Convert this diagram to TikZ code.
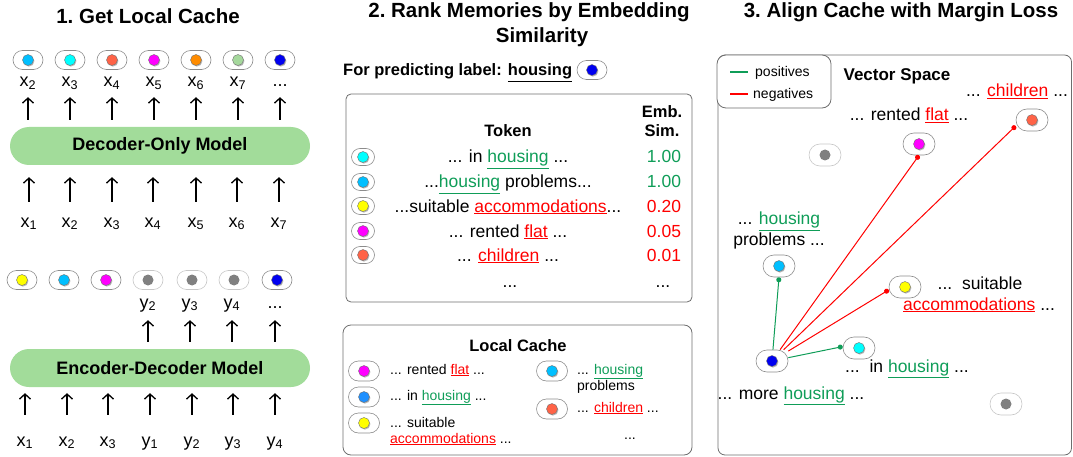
\documentclass[tikz,border=0pt]{standalone}
\usepackage{fontspec}
\setmainfont{Liberation Sans}
\usetikzlibrary{arrows.meta,shadows}
\definecolor{posg}{HTML}{0F9D58}
\definecolor{negr}{HTML}{FF0000}
\definecolor{barg}{HTML}{A2DC9A}
\definecolor{dsb}{HTML}{00BFFF}
\definecolor{cyn}{HTML}{00FFFF}
\definecolor{tom}{HTML}{FF6347}
\definecolor{mag}{HTML}{FF00FF}
\definecolor{org}{HTML}{FF8C00}
\definecolor{lgr}{HTML}{A5D89C}
\definecolor{blu}{HTML}{0000F0}
\definecolor{yel}{HTML}{FFFF00}
\definecolor{dgb}{HTML}{1E90FF}
\definecolor{gry}{HTML}{808080}
\definecolor{boxc}{HTML}{6E6E6E}
\newcommand\posw[1]{\textcolor{posg}{\underline{#1}}}
\newcommand\negw[1]{\textcolor{negr}{\underline{#1}}}
\newcommand\fsz[1]{\fontsize{#1}{#1}\selectfont}
\newcommand\mkpill[4]{\node[#2] (#1) at (#3) {};\node[dot, fill=#4] (#1d) at (#1) {};}
\newcommand\mkgpill[3]{\node[#2, draw=black!22] (#1) at (#3) {};\node[gdot] (#1d) at (#1) {};}
\tikzset{
  ttl/.style={font=\fsz{20.5}\bfseries, inner sep=0pt, anchor=base},
  lbl/.style={font=\fsz{18}, inner sep=0pt, text height=10pt, text depth=4pt, anchor=base},
  rowt/.style={font=\fsz{17.5}, inner sep=0pt, anchor=base},
  smt/.style={font=\fsz{14}, inner sep=0pt, anchor=base west},
  hdr/.style={font=\fsz{16.5}\bfseries, inner sep=0pt, anchor=base},
  bar/.style={fill=barg, rounded corners=19pt, minimum width=300pt, minimum height=38pt, font=\fsz{18}\bfseries, inner sep=0pt},
  arr/.style={line width=1.3pt, -{Straight Barb[length=5pt,width=11pt,line width=1.3pt]}},
  pill/.style={draw=black!45, line width=0.6pt, fill=white, inner sep=0pt},
  pillA/.style={pill, minimum width=30pt, minimum height=19pt, rounded corners=9.5pt},
  pillB/.style={pill, minimum width=23pt, minimum height=17pt, rounded corners=8.5pt},
  pillC/.style={pill, minimum width=31pt, minimum height=20pt, rounded corners=10pt},
  pillD/.style={pill, minimum width=32pt, minimum height=22pt, rounded corners=11pt},
  dot/.style={circle, inner sep=0pt, minimum size=11pt, draw=black!55, line width=0.4pt,
    drop shadow={shadow xshift=0.9pt, shadow yshift=-1.1pt, fill=black, opacity=0.28}},
  gdot/.style={circle, inner sep=0pt, minimum size=11pt, fill=gry},
  frame/.style={draw=boxc, line width=0.8pt},
  posline/.style={posg, line width=1pt, -{Circle[length=5pt]}},
  negline/.style={negr, line width=1pt, -{Circle[length=5pt]}},
}
\begin{document}
\begin{tikzpicture}[x=1pt, y=-1pt]
\useasboundingbox (0,0) rectangle (1073,457);
% ---------------- Panel 1
\node[ttl] (t1) at (148,24) {1.\ Get Local Cache};
\node[bar] (dec) at (160,146) {Decoder-Only Model};
\foreach \x/\c/\n [count=\i] in {28/dsb/2,70/cyn/3,112/tom/4,154/mag/5,196/org/6,238/lgr/7}{
  \mkpill{dp\i}{pillA}{\x,60}{\c}
  \node[lbl] (dl\i) at (\x,87) {x\textsubscript{\n}};
  \draw[arr, shorten <=7pt, shorten >=6pt] (dec.north -| dl\i) -- (dl\i.south);
}
\mkpill{dp7}{pillA}{280,60}{blu}
\node[lbl] (dl7) at (280,87) {...};
\draw[arr, shorten <=7pt, shorten >=6pt] (dec.north -| dl7) -- (dl7.south);
\foreach \x [count=\i] in {29,70,112,153,196,237,279}{
  \node[lbl] (xl\i) at (\x,227) {x\textsubscript{\i}};
  \draw[arr, shorten <=15pt, shorten >=12pt] (xl\i.north) -- (dec.south -| xl\i);
}
% encoder-decoder
\foreach \x/\c [count=\i] in {22/yel,64/dsb,106/mag}{\mkpill{ep\i}{pillA}{\x,280}{\c}}
\foreach \x [count=\i from 4] in {148,192,234}{\mkgpill{ep\i}{pillA}{\x,280}}
\mkpill{ep7}{pillA}{277,280}{blu}
\node[bar] (enc) at (160,368) {Encoder-Decoder Model};
\foreach \x/\n [count=\i] in {148/2,190/3,232/4}{
  \node[lbl] (el\i) at (\x,308) {y\textsubscript{\n}};
  \draw[arr, shorten <=7pt, shorten >=8pt] (enc.north -| el\i) -- (el\i.south);
}
\node[lbl] (el4) at (275,308) {...};
\draw[arr, shorten <=7pt, shorten >=8pt] (enc.north -| el4) -- (el4.south);
\foreach \x/\t [count=\i] in {25/{x\textsubscript{1}},67/{x\textsubscript{2}},108/{x\textsubscript{3}},150/{y\textsubscript{1}},192/{y\textsubscript{2}},233/{y\textsubscript{3}},275/{y\textsubscript{4}}}{
  \node[lbl] (bl\i) at (\x,446) {\t};
  \draw[arr, shorten <=21pt, shorten >=6pt] (bl\i.north) -- (enc.south -| bl\i);
}
% ---------------- Panel 2
\node[ttl] (t2a) at (529,18) {2.\ Rank Memories by Embedding};
\node[ttl] (t2b) at (542,43) {Similarity};
\node[font=\fsz{16.5}\bfseries, inner sep=0pt, anchor=base west] (pred) at (343,76) {For predicting label: \underline{housing}};
\mkpill{predp}{pillA}{592,70}{blu}
\node[frame, rounded corners=5pt, minimum width=346pt, minimum height=208pt] (tbl) at (519,198) {};
\node[hdr] (hEmb) at (662,118) {Emb.};
\node[hdr] (hSim) at (662,137) {Sim.};
\node[hdr] (hTok) at (508,137) {Token};
\foreach \y/\c/\t/\v/\vc [count=\i] in {
  163/cyn/{... in \posw{housing} ...}/1.00/posg,
  188/dsb/{...\posw{housing} problems...}/1.00/posg,
  212/yel/{...suitable \negw{accommodations}...}/0.20/negr,
  237/mag/{... rented \negw{flat} ...}/0.05/negr,
  261/tom/{... \negw{children} ...}/0.01/negr}{
  \mkpill{tp\i}{pillB}{363,\y-6}{\c}
  \node[rowt] (tt\i) at (508,\y) {\t};
  \node[rowt, text=\vc] (tv\i) at (664,\y) {\v};
}
\node[rowt] (tt6) at (510,287) {...};
\node[rowt] (tv6) at (663,287) {...};
% local cache
\node[frame, rounded corners=8pt, minimum width=349pt, minimum height=130pt] (lc) at (517.5,390) {};
\node[hdr] (lcT) at (518,351) {Local Cache};
\mkpill{lp1}{pillC}{364,371}{mag}
\mkpill{lp2}{pillC}{364,397}{dgb}
\mkpill{lp3}{pillC}{364,423}{yel}
\node[smt] (lt1) at (390,374) {... rented \negw{flat} ...};
\node[smt] (lt2) at (390,400) {... in \posw{housing} ...};
\node[smt] (lt3) at (390,427) {... suitable};
\node[smt] (lt3b) at (390,443) {\negw{accommodations} ...};
\mkpill{rp1}{pillC}{552,371}{dsb}
\mkpill{rp2}{pillC}{552,409}{tom}
\node[smt] (rt1) at (577,374) {... \posw{housing}};
\node[smt] (rt1b) at (577,390) {problems};
\node[smt] (rt2) at (577,412) {... \negw{children} ...};
\node[smt] (rt3) at (624,439) {...};
% ---------------- Panel 3
\node[ttl] (t3) at (901,18) {3.\ Align Cache with Margin Loss};
\node[frame, rounded corners=7pt, minimum width=353.5pt, minimum height=400pt] (vs) at (894.75,255) {};
\node[frame, fill=white, rounded corners=9pt, minimum width=114pt, minimum height=53pt] (leg) at (774,81.5) {};
\coordinate (lgA) at (730,72); \coordinate (lgB) at (748,72);
\coordinate (lrA) at (730,94); \coordinate (lrB) at (748,94);
\draw[posg, line width=1.5pt] (lgA) -- (lgB);
\draw[negr, line width=1.5pt] (lrA) -- (lrB);
\node[smt] (lgt) at (755,77) {positives};
\node[smt] (lrt) at (753,99) {negatives};
\node[hdr, font=\fsz{17}\bfseries] (vsT) at (897,81) {Vector Space};
\node[rowt] (v1) at (1017,97) {... \negw{children} ...};
\node[rowt] (v2) at (909,121) {... rented \negw{flat} ...};
\node[rowt] (v3) at (779,225) {... \posw{housing}};
\node[rowt] (v3b) at (779,245) {problems ...};
\node[rowt] (v4) at (980,289) {...\ \ suitable};
\node[rowt] (v4b) at (979,310) {\negw{accommodations} ...};
\node[rowt] (v5) at (907,372) {...\ \ in \posw{housing} ...};
\node[rowt] (v6) at (791,399) {... more \posw{housing} ...};
\mkpill{vsTo}{pillD}{1032,120}{tom}
\mkpill{vsMa}{pillD}{919,144}{mag}
\mkgpill{vsG1}{pillD}{825,155}
\mkpill{vsDS}{pillD}{779,266}{dsb}
\mkpill{vsYe}{pillD}{905,287}{yel}
\mkpill{vsCy}{pillD}{859,348}{cyn}
\mkpill{vsB}{pillD}{772,361}{blu}
\mkgpill{vsG2}{pillD}{1006,404}
\draw[posline] (vsB) -- (vsDS.south);
\draw[posline] (vsB) -- (vsCy.175);
\draw[negline] (vsB) -- (vsYe.190);
\draw[negline] (vsB) -- (vsMa.south);
\draw[negline] (vsB) -- (vsTo.200);
\end{tikzpicture}
\end{document}
